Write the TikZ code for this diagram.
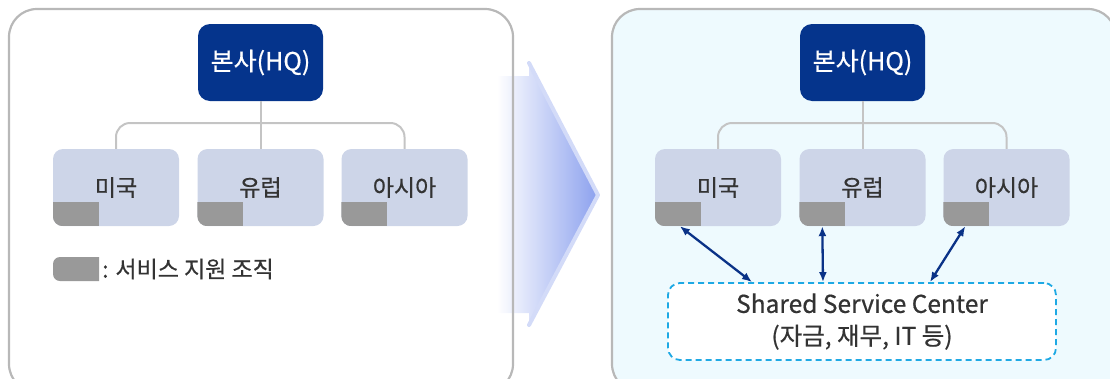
\documentclass[tikz,border=0pt]{standalone}
\usepackage{fontspec}
\setmainfont{Noto Sans CJK KR}[FakeBold=0.6]
\usetikzlibrary{arrows.meta}

\definecolor{hqblue}{HTML}{05348C}
\definecolor{regionfill}{HTML}{CDD5E8}
\definecolor{svcgray}{HTML}{999999}
\definecolor{panelline}{HTML}{B8B8B8}
\definecolor{panelbg}{HTML}{EEFAFE}
\definecolor{treeline}{HTML}{C4C4C4}
\definecolor{linkblue}{HTML}{0A3287}
\definecolor{sscline}{HTML}{1EA9E4}
\definecolor{chevronblue}{HTML}{8CA1EE}
\definecolor{chevronedge}{HTML}{D3DBF8}
\definecolor{textdark}{HTML}{333333}

% grey "service support" strip in the lower-left corner of a region box
\newcommand\svccorner[1]{%
  \begin{scope}
    \clip[rounded corners=10pt] (#1.south west) rectangle (#1.north east);
    \fill[svcgray] (#1.south west) rectangle ([xshift=46pt,yshift=24pt]#1.south west);
  \end{scope}}

\begin{document}
\begin{tikzpicture}[x=1pt,y=-1pt,
  panel/.style={draw=panelline,line width=2.2pt,rounded corners=28pt},
  hqbox/.style={fill=hqblue,text=white,rounded corners=12pt,minimum width=125pt,
    minimum height=77pt,inner sep=0pt,font=\fontsize{25}{29}\selectfont},
  region/.style={fill=regionfill,text=textdark,rounded corners=10pt,minimum width=126pt,
    minimum height=77pt,inner sep=0pt,font=\fontsize{23}{27}\selectfont},
  tree/.style={draw=treeline,line width=2pt,rounded corners=14pt},
  link/.style={draw=linkblue,line width=2.3pt,
    {Latex[length=10pt,width=8pt]}-{Latex[length=10pt,width=8pt]}},
  ssc/.style={draw=sscline,fill=white,line width=1.8pt,dash pattern=on 6pt off 4pt,
    rounded corners=12pt,minimum width=388pt,minimum height=77pt,align=center,
    text=textdark,font=\fontsize{24.5}{32}\selectfont}
]
\useasboundingbox (0,0) rectangle (1110,378);

% transition chevron between the two panels
\shade[left color=white,right color=chevronblue]
  (497,76) -- (529,76) -- (529,63) -- (598,195) -- (529,325) -- (529,313) -- (497,313) -- cycle;
\draw[chevronedge,line width=4pt,line cap=round,line join=round]
  (529,63) -- (598,195) -- (529,325);

% panels
\draw[panel] (9,9) rectangle (513,392);
\draw[panel,fill=panelbg] (612,9) rectangle (1116,392);

% ---------- left: before ----------
\node[hqbox] (lhq) at (260.5,62.5) {본사(HQ)};
\node[region] (lus) at (116,187.5) {미국};
\node[region] (leu) at (260.5,187.5) {유럽};
\node[region] (las) at (404.5,187.5) {아시아};
\svccorner{lus}
\svccorner{leu}
\svccorner{las}

\coordinate (lbus) at (260.5,123);
\draw[tree] (lus.north) |- (lbus) -| (las.north);
\draw[tree] (lhq.south) -- (leu.north);

% legend
\begin{scope}
  \clip (40,250) rectangle (99,290);
  \fill[svcgray,rounded corners=7pt] (53,257) rectangle (115,281);
\end{scope}
\node[anchor=west,inner sep=0pt,text=textdark,font=\fontsize{23}{27}\selectfont]
  (legend) at (102,269) {: 서비스 지원 조직};

% ---------- right: after ----------
\node[hqbox] (rhq) at (862.5,62.5) {본사(HQ)};
\node[region] (rus) at (718,187.5) {미국};
\node[region] (reu) at (862.5,187.5) {유럽};
\node[region] (ras) at (1006.5,187.5) {아시아};
\svccorner{rus}
\svccorner{reu}
\svccorner{ras}

\coordinate (rbus) at (862.5,123);
\draw[tree] (rus.north) |- (rbus) -| (ras.north);
\draw[tree] (rhq.south) -- (reu.north);

\node[ssc] (ssc) at (862,321.5) {Shared Service Center\\(자금, 재무, IT 등)};

\draw[link] ([xshift=25pt]rus.south west) -- ([xshift=-110pt]ssc.north);
\draw[link] ([xshift=23pt]reu.south west) -- ([xshift=-39pt]ssc.north);
\draw[link] ([xshift=22pt]ras.south west) -- ([xshift=68pt]ssc.north);
\end{tikzpicture}
\end{document}
